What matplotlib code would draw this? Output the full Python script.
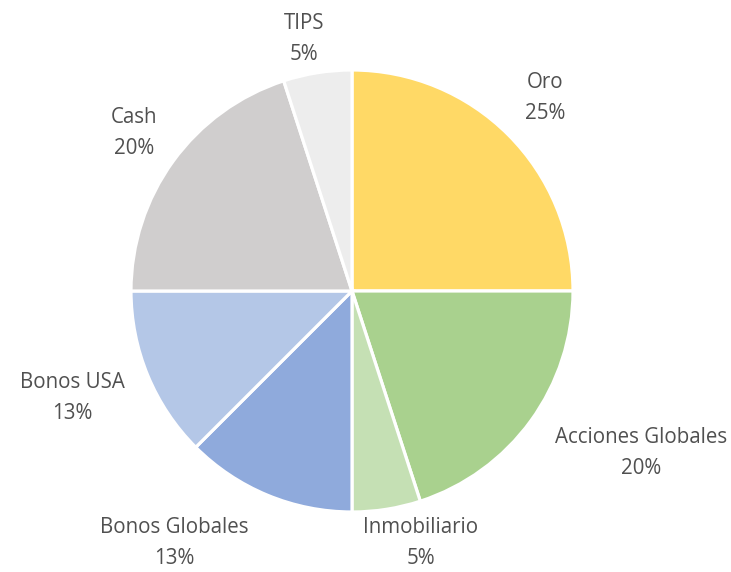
import matplotlib
matplotlib.use("Agg")
import matplotlib.pyplot as plt
import numpy as np

# Data
labels = ["Oro", "Acciones Globales", "Inmobiliario", "Bonos Globales", "Bonos USA", "Cash", "TIPS"]
values = [25, 20, 5, 12.5, 12.5, 20, 5]
pct_labels = ["25%", "20%", "5%", "13%", "13%", "20%", "5%"]
colors = ["#FFD966", "#A9D18E", "#C5E0B4", "#8FAADC", "#B4C7E7", "#D0CECE", "#EDEDED"]

# label placement (radial distance, horizontal nudge) in radius units
label_dist = [1.235, 1.245, 1.155, 1.234, 1.264, 1.217, 1.154]
label_nudge = [0.0, 0.30, 0.13, -0.33, -0.097, 0.0, -0.035]

W, H = 731, 572
fig = plt.figure(figsize=(W / 100, H / 100), dpi=100)
ax = fig.add_axes([0, 0, 1, 1])

cx, cy, r = 352, 291, 221
wedges, _ = ax.pie(values, colors=colors, startangle=90, counterclock=False,
                   radius=1, wedgeprops=dict(edgecolor="white", linewidth=2.3))

for w, lab, pct, d, nx in zip(wedges, labels, pct_labels, label_dist, label_nudge):
    mid = np.deg2rad((w.theta1 + w.theta2) / 2)
    x = d * np.cos(mid) + nx
    y = d * np.sin(mid)
    ax.text(x, y, f"{lab}\n{pct}", ha="center", va="center", fontsize=14.8,
            color="#505050", family="Open Sans", linespacing=1.65)

ax.set_xlim(-cx / r, (W - cx) / r)
ax.set_ylim(-(H - cy) / r, cy / r)
ax.set_aspect("equal")
ax.axis("off")

fig.savefig("out.png", dpi=100, facecolor="white")
